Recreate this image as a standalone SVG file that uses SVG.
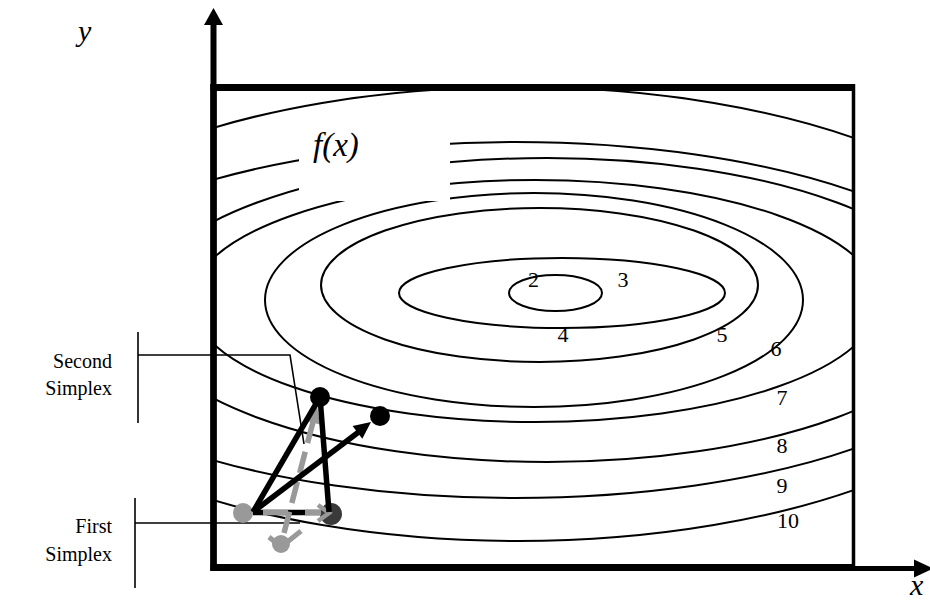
<svg xmlns="http://www.w3.org/2000/svg" width="930" height="602" viewBox="0 0 930 602">
<style>
.c{fill:none;stroke:#000;stroke-width:2}
.lbl{font-family:"Liberation Serif","Times New Roman",serif;font-size:22px;fill:#000}
.it{font-family:"Liberation Serif","Times New Roman",serif;font-style:italic;font-size:30px;fill:#000}
.side{font-family:"Liberation Serif","Times New Roman",serif;font-size:20px;fill:#000;text-anchor:end}
.thin{fill:none;stroke:#000;stroke-width:1.6}
.blk{fill:none;stroke:#000;stroke-width:5.5;stroke-linecap:butt}
.gry{fill:none;stroke:#999;stroke-width:5.5}
</style>
<defs>
<clipPath id="boxclip"><rect x="213" y="87" width="641" height="481"/></clipPath>
</defs>
<rect width="930" height="602" fill="#fff"/>
<g id="contours" clip-path="url(#boxclip)">
<ellipse class="c" cx="555.5" cy="293" rx="46.5" ry="18"/>
<ellipse class="c" cx="562" cy="293" rx="163" ry="35"/>
<ellipse class="c" cx="539.5" cy="285" rx="218.5" ry="77"/>
<ellipse class="c" cx="534" cy="300" rx="269" ry="107"/>
<ellipse class="c" cx="535" cy="301" rx="344" ry="121"/>
<ellipse class="c" cx="547" cy="310" rx="410" ry="152"/>
<ellipse class="c" cx="515" cy="320" rx="490" ry="178"/>
<ellipse class="c" cx="518" cy="314" rx="532" ry="227"/>
<rect x="299" y="120" width="151" height="81" fill="#fff"/>
</g>
<g id="fx-label"><text class="it" x="313" y="156" style="font-size:33px">f(x)</text></g>
<g id="levels">
<text class="lbl" x="533.5" y="287" text-anchor="middle">2</text>
<text class="lbl" x="623" y="287" text-anchor="middle">3</text>
<text class="lbl" x="563" y="342" text-anchor="middle">4</text>
<text class="lbl" x="722" y="342" text-anchor="middle">5</text>
<text class="lbl" x="776" y="356" text-anchor="middle">6</text>
<text class="lbl" x="782" y="405" text-anchor="middle">7</text>
<text class="lbl" x="782" y="453" text-anchor="middle">8</text>
<text class="lbl" x="782" y="493" text-anchor="middle">9</text>
<text class="lbl" x="788" y="528" text-anchor="middle">10</text>
</g>
<g id="axes">
<line x1="213.5" y1="570" x2="213.5" y2="22" stroke="#000" stroke-width="6"/>
<polygon points="213.5,8 204,25 223,25" fill="#000"/>
<line x1="213" y1="568.5" x2="916" y2="568.5" stroke="#000" stroke-width="5"/>
<polygon points="933,568.5 914,559.5 914,577.5" fill="#000"/>
<text class="it" x="78" y="41">y</text>
<text class="it" x="910" y="595">x</text>
</g>
<g id="box">
<line x1="210.5" y1="87.5" x2="855" y2="87.5" stroke="#000" stroke-width="7"/>
<line x1="853.5" y1="84" x2="853.5" y2="571" stroke="#000" stroke-width="3.5"/>
<line x1="210.5" y1="567.5" x2="855" y2="567.5" stroke="#000" stroke-width="7"/>
<line x1="213.5" y1="84" x2="213.5" y2="571" stroke="#000" stroke-width="6.5"/>
</g>
<g id="second-simplex-label">
<text class="side" x="112" y="368">Second</text>
<text class="side" x="112" y="395">Simplex</text>
<polyline class="thin" points="138,332 138,423"/>
<polyline class="thin" points="138,355 290,355 304,444"/>
</g>
<g id="first-simplex-label">
<text class="side" x="112" y="533">First</text>
<text class="side" x="112" y="561">Simplex</text>
<polyline class="thin" points="135,498 135,588"/>
<polyline class="thin" points="135,523 300,523"/>
</g>
<g id="first-simplex">
<line class="blk" x1="253" y1="512.5" x2="330" y2="512.5"/>
<circle cx="243" cy="513" r="10" fill="#999"/>
<circle cx="281" cy="544" r="9" fill="#999"/>
<circle cx="331" cy="514" r="11" fill="#3a3a3a"/>
<line class="gry" x1="263" y1="512.5" x2="321" y2="512.5" stroke-dasharray="25 17"/>
<polyline points="318,505 329,513 318,521" fill="none" stroke="#999" stroke-width="4.5"/>
<line class="gry" x1="284" y1="533" x2="313" y2="422" stroke-dasharray="22 9"/>
<polygon points="317,405 306.5,421 320,424.5" fill="#999"/>
<polyline points="269,537 281,547 301,531" fill="none" stroke="#999" stroke-width="5"/>
</g>
<g id="second-simplex">
<line class="blk" x1="253" y1="512" x2="320" y2="397"/>
<line class="blk" x1="320" y1="397" x2="329" y2="512"/>
<line class="blk" x1="253" y1="512" x2="360" y2="431"/>
<polygon points="371,422 362.3,438.7 352.6,425.9" fill="#000"/>
<circle cx="320" cy="397" r="10" fill="#000"/>
<circle cx="380" cy="416" r="10" fill="#000"/>
</g>
</svg>
